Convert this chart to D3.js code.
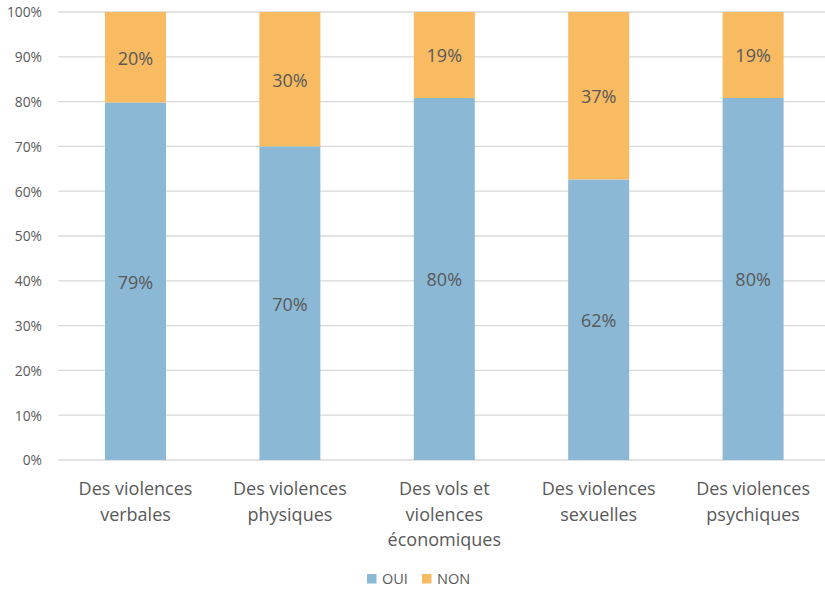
<!DOCTYPE html>
<html>
<head>
<meta charset="utf-8">
<script src="https://cdn.jsdelivr.net/npm/d3@7"></script>
<style>
  html, body { margin: 0; padding: 0; background: #fff; }
  svg text { font-family: "Open Sans", Lato, "Liberation Sans", sans-serif; fill: #595959; }
</style>
</head>
<body>
<svg id="chart" width="825" height="591"></svg>
<script>
// Categories (each label split into lines)
const categories = [
  ["Des violences", "verbales"],
  ["Des violences", "physiques"],
  ["Des vols et", "violences", "économiques"],
  ["Des violences", "sexuelles"],
  ["Des violences", "psychiques"]
];
const ouiValues = [79, 70, 80, 62, 80];
const nonValues = [20, 30, 19, 37, 19];
const seriesNames = ["OUI", "NON"];
const yTicks = [0, 10, 20, 30, 40, 50, 60, 70, 80, 90, 100];

const colors = { OUI: "#8BB8D5", NON: "#F8BB62" };

const svg = d3.select("#chart");
const margin = { left: 58.3, right: -5.3, top: 12, bottom: 131 };
const W = 825, H = 591;

const x = d3.scaleBand()
  .domain(d3.range(categories.length))
  .range([margin.left, W - margin.right])
  .paddingInner(0.605)
  .paddingOuter(0.3025);

const y = d3.scaleLinear().domain([0, 1]).range([H - margin.bottom, margin.top]);

// Gridlines
svg.append("g")
  .selectAll("line")
  .data(yTicks)
  .join("line")
  .attr("x1", margin.left)
  .attr("x2", W)
  .attr("y1", d => y(d / 100))
  .attr("y2", d => y(d / 100))
  .attr("stroke", "#D9D9D9")
  .attr("stroke-width", 1.3);

// Y axis labels
const yAxis = d3.axisLeft(y)
  .tickValues(yTicks.map(d => d / 100))
  .tickFormat(d => Math.round(d * 100) + "%")
  .tickSize(0)
  .tickPadding(0);
const gy = svg.append("g")
  .attr("transform", `translate(42,0)`)
  .call(yAxis);
gy.select(".domain").remove();
gy.selectAll("text")
  .attr("font-size", 13.8)
  .attr("dy", "0.35em")
  .style("font-family", "'Open Sans', Lato, sans-serif")
  .attr("fill", "#595959");

// 100% stacked data
const rows = categories.map((c, i) => ({
  i,
  OUI: ouiValues[i] / (ouiValues[i] + nonValues[i]),
  NON: nonValues[i] / (ouiValues[i] + nonValues[i]),
  labels: { OUI: ouiValues[i], NON: nonValues[i] }
}));
const stacked = d3.stack().keys(seriesNames)(rows);

const layers = svg.append("g")
  .selectAll("g")
  .data(stacked)
  .join("g")
  .attr("fill", d => colors[d.key]);

layers.selectAll("rect")
  .data(d => d.map(v => ({ key: d.key, v })))
  .join("rect")
  .attr("x", d => x(d.v.data.i))
  .attr("width", x.bandwidth())
  .attr("y", d => y(d.v[1]))
  .attr("height", d => y(d.v[0]) - y(d.v[1]));

// Value labels
layers.selectAll("text")
  .data(d => d.map(v => ({ key: d.key, v })))
  .join("text")
  .attr("x", d => x(d.v.data.i) + x.bandwidth() / 2)
  .attr("y", d => (y(d.v[0]) + y(d.v[1])) / 2 + 1)
  .attr("dy", "0.35em")
  .attr("text-anchor", "middle")
  .attr("font-size", 18)
  .style("fill", "#595959")
  .text(d => d.v.data.labels[d.key] + "%");

// Category labels
const cat = svg.append("g")
  .selectAll("text")
  .data(categories)
  .join("text")
  .attr("x", (d, i) => x(i) + x.bandwidth() / 2)
  .attr("y", 495)
  .attr("text-anchor", "middle")
  .attr("font-size", 18);
cat.selectAll("tspan")
  .data(d => d)
  .join("tspan")
  .attr("x", function () { return this.parentNode.getAttribute("x"); })
  .attr("dy", (d, j) => j === 0 ? 0 : 25.5)
  .text(d => d);

// Legend
const legendItems = [
  { name: "OUI", x: 367 },
  { name: "NON", x: 422 }
];
const lg = svg.append("g")
  .selectAll("g")
  .data(legendItems)
  .join("g")
  .attr("transform", d => `translate(${d.x},579)`);
lg.append("rect")
  .attr("x", 0).attr("y", -5)
  .attr("width", 9.5).attr("height", 9.5)
  .attr("fill", d => colors[d.name]);
lg.append("text")
  .attr("x", 15)
  .attr("y", 0)
  .attr("dy", "0.35em")
  .attr("font-size", 14.5)
  .text(d => d.name);
</script>
</body>
</html>
